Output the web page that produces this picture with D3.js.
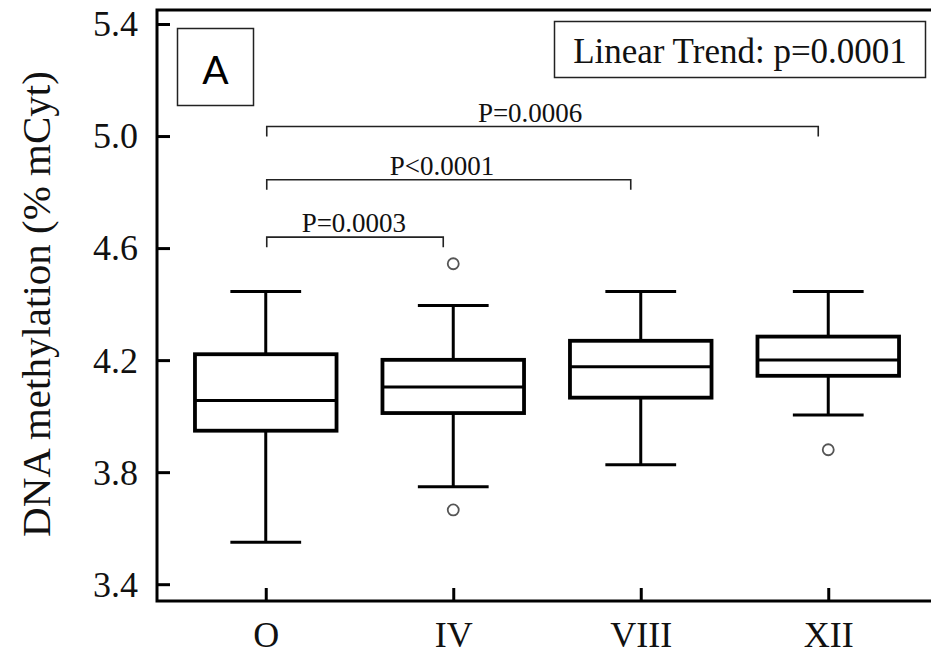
<!DOCTYPE html>
<html>
<head>
<meta charset="utf-8">
<script src="https://cdn.jsdelivr.net/npm/d3@7"></script>
<style>
  html, body { margin: 0; padding: 0; background: #fff; }
  svg { display: block; }
</style>
</head>
<body>
<svg id="chart" width="931" height="656"></svg>
<script>
// Sampling times
const categories = ["O", "IV", "VIII", "XII"];

// Box-plot summaries (% mCyt)
const whiskerLow  = [3.55, 3.748, 3.826, 4.004];
const quartile1   = [3.948, 4.011, 4.066, 4.144];
const medians     = [4.056, 4.104, 4.176, 4.200];
const quartile3   = [4.221, 4.201, 4.269, 4.284];
const whiskerHigh = [4.445, 4.395, 4.445, 4.445];
const outliers    = [[], [4.544, 3.665], [], [3.88]];

// Y axis ticks
const yTicks = [3.4, 3.8, 4.2, 4.6, 5.0, 5.4];

// Pairwise comparisons against O
const compareFrom   = ["O", "O", "O"];
const compareTo     = ["XII", "VIII", "IV"];
const compareLabels = ["P=0.0006", "P<0.0001", "P=0.0003"];
const compareLevels = [5.034, 4.844, 4.639];

const trendLabel = "Linear Trend: p=0.0001";
const panelLabel = "A";
const yTitle = "DNA methylation (% mCyt)";

const svg = d3.select("#chart");
const serif = "'Liberation Serif', 'Times New Roman', serif";

const plot = { left: 157, right: 937, top: 10, bottom: 601 };

const x = d3.scalePoint()
  .domain(categories)
  .range([plot.left, plot.right])
  .padding(0.58);

const y = d3.scaleLinear()
  .domain([3.34, 5.45])
  .range([plot.bottom, plot.top]);

const boxW = x.step() * 0.755;
const capW = boxW / 2;

// Frame
svg.append("rect")
  .attr("x", plot.left).attr("y", plot.top)
  .attr("width", plot.right - plot.left)
  .attr("height", plot.bottom - plot.top)
  .attr("fill", "none").attr("stroke", "#000").attr("stroke-width", 3);

// Y axis (inward ticks)
const yAxis = svg.append("g")
  .attr("transform", `translate(${plot.left},0)`)
  .call(d3.axisLeft(y).tickValues(yTicks).tickFormat(d3.format(".1f"))
    .tickSize(-13).tickPadding(19));
yAxis.select(".domain").remove();
yAxis.selectAll(".tick line").attr("stroke", "#000").attr("stroke-width", 3);
yAxis.selectAll(".tick text")
  .attr("font-family", serif).attr("font-size", 36).attr("fill", "#111")
  .attr("dy", "0.33em");

// X axis (inward ticks)
const xAxis = svg.append("g")
  .attr("transform", `translate(0,${plot.bottom})`)
  .call(d3.axisBottom(x).tickSize(-13).tickPadding(20));
xAxis.select(".domain").remove();
xAxis.selectAll(".tick line").attr("stroke", "#000").attr("stroke-width", 3);
xAxis.selectAll(".tick text")
  .attr("font-family", serif).attr("font-size", 36).attr("fill", "#111")
  .attr("dy", "0.71em");

// Y title
svg.append("text")
  .attr("transform", `translate(50,${(66 + 542) / 2}) rotate(-90)`)
  .attr("text-anchor", "middle")
  .attr("font-family", serif).attr("font-size", 41).attr("fill", "#111")
  .text(yTitle);

// Box plots
const boxes = svg.append("g").selectAll("g")
  .data(categories.map((c, i) => ({
    c, lo: whiskerLow[i], q1: quartile1[i], med: medians[i],
    q3: quartile3[i], hi: whiskerHigh[i], out: outliers[i]
  })))
  .join("g");

boxes.append("line")
  .attr("x1", d => x(d.c)).attr("x2", d => x(d.c))
  .attr("y1", d => y(d.hi)).attr("y2", d => y(d.q3))
  .attr("stroke", "#000").attr("stroke-width", 3);
boxes.append("line")
  .attr("x1", d => x(d.c)).attr("x2", d => x(d.c))
  .attr("y1", d => y(d.q1)).attr("y2", d => y(d.lo))
  .attr("stroke", "#000").attr("stroke-width", 3);
boxes.append("line")
  .attr("x1", d => x(d.c) - capW / 2).attr("x2", d => x(d.c) + capW / 2)
  .attr("y1", d => y(d.hi)).attr("y2", d => y(d.hi))
  .attr("stroke", "#000").attr("stroke-width", 3);
boxes.append("line")
  .attr("x1", d => x(d.c) - capW / 2).attr("x2", d => x(d.c) + capW / 2)
  .attr("y1", d => y(d.lo)).attr("y2", d => y(d.lo))
  .attr("stroke", "#000").attr("stroke-width", 3);
boxes.append("rect")
  .attr("x", d => x(d.c) - boxW / 2).attr("width", boxW)
  .attr("y", d => y(d.q3)).attr("height", d => y(d.q1) - y(d.q3))
  .attr("fill", "#fff").attr("stroke", "#000").attr("stroke-width", 3.8);
boxes.append("line")
  .attr("x1", d => x(d.c) - boxW / 2).attr("x2", d => x(d.c) + boxW / 2)
  .attr("y1", d => y(d.med)).attr("y2", d => y(d.med))
  .attr("stroke", "#000").attr("stroke-width", 3);
boxes.selectAll("circle")
  .data(d => d.out.map(v => ({ c: d.c, v })))
  .join("circle")
  .attr("cx", d => x(d.c)).attr("cy", d => y(d.v)).attr("r", 5.5)
  .attr("fill", "#fff").attr("stroke", "#555").attr("stroke-width", 1.8);

// Comparison brackets
const brackets = svg.append("g").selectAll("g")
  .data(compareTo.map((t, i) => ({
    from: compareFrom[i], to: t, label: compareLabels[i], level: compareLevels[i]
  })))
  .join("g");

brackets.append("path")
  .attr("d", d => {
    const x0 = x(d.from) + 1, x1 = x(d.to) - 10, yy = y(d.level);
    return `M${x0},${yy + 10}V${yy}H${x1}V${yy + 10}`;
  })
  .attr("fill", "none").attr("stroke", "#222").attr("stroke-width", 1.6);
brackets.append("text")
  .attr("x", d => x(d.from) + (x(d.to) - x(d.from)) * 0.47)
  .attr("y", d => y(d.level) - 5)
  .attr("text-anchor", "middle")
  .attr("font-family", serif).attr("font-size", 27).attr("fill", "#111")
  .text(d => d.label);

// Trend box
svg.append("rect")
  .attr("x", 554.5).attr("y", 21.5).attr("width", 371).attr("height", 56)
  .attr("fill", "#fff").attr("stroke", "#222").attr("stroke-width", 1.5);
svg.append("text")
  .attr("x", 740).attr("y", 63)
  .attr("text-anchor", "middle")
  .attr("font-family", serif).attr("font-size", 35).attr("fill", "#111")
  .text(trendLabel);

// Panel label
svg.append("rect")
  .attr("x", 177.5).attr("y", 28.5).attr("width", 76).attr("height", 77)
  .attr("fill", "#fff").attr("stroke", "#222").attr("stroke-width", 1.5);
svg.append("text")
  .attr("x", 215.5).attr("y", 83.5)
  .attr("text-anchor", "middle")
  .attr("font-family", "Lato, 'Open Sans', sans-serif").attr("font-size", 39).attr("fill", "#000")
  .text(panelLabel);
</script>
</body>
</html>
